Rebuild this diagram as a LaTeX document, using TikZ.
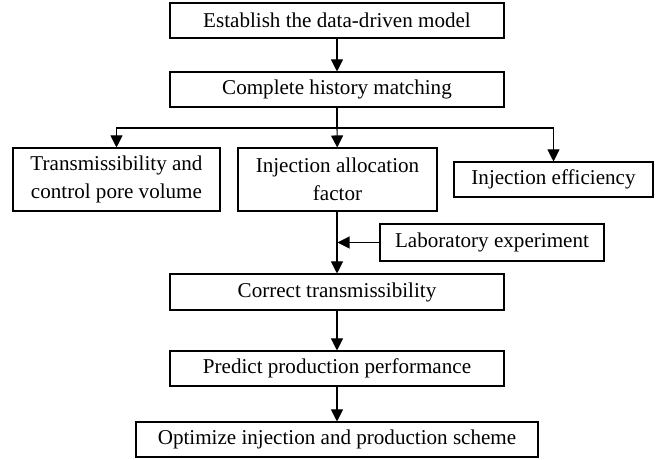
\documentclass[tikz,border=0pt]{standalone}
\usepackage{fontspec}
\setmainfont{Liberation Serif}
\usepackage{tikz}
\usetikzlibrary{arrows.meta, positioning}

\begin{document}
\begin{tikzpicture}[x=0.03cm, y=-0.03cm,
        stage/.style={draw, line width=0.9pt, inner sep=0pt, align=center,
            font=\fontsize{18}{24}\selectfont},
        flow/.style={line width=0.9pt, -{Triangle[length=0.36cm, width=0.36cm]}}]
        \useasboundingbox (0,0) rectangle (668,460);
        \node[stage, minimum width=10.02cm, minimum height=1.05cm] (model) at (337,20.5) {Establish the data-driven model};
        \node[stage, minimum width=10.02cm, minimum height=1.05cm] (hist) at (337,89.5) {Complete history matching};
        \node[stage, minimum width=6.21cm, minimum height=1.89cm] (trans) at (116.5,179.5) {Transmissibility and\\control pore volume};
        \node[stage, minimum width=5.97cm, minimum height=1.89cm] (alloc) at (337.5,179.5) {Injection allocation\\factor};
        \node[stage, minimum width=5.97cm, minimum height=1.05cm] (eff) at (553.5,179.5) {Injection efficiency};
        \node[stage, minimum width=6.72cm, minimum height=1.11cm] (lab) at (492,242.5) {Laboratory experiment};
        \node[stage, minimum width=10.02cm, minimum height=1.08cm] (corr) at (337,292) {Correct transmissibility};
        \node[stage, minimum width=10.02cm, minimum height=1.05cm] (pred) at (337,368.5) {Predict production performance};
        \node[stage, minimum width=12.06cm, minimum height=1.05cm] (opt) at (337,439.5) {Optimize injection and production scheme};
        \coordinate (split) at (337,128);
        \draw[flow] (model) -- (hist);
        \draw[line width=0.9pt] (hist) -- (split);
        \draw[flow] (split) -| (trans.north);
        \draw[flow] (split) -| (eff.north);
        \draw[flow] (split) -- (alloc);
        \draw[flow] (alloc.south -| corr.north) -- (corr);
        \draw[flow] (lab.west) -- (lab.west -| alloc.south);
        \draw[flow] (corr) -- (pred);
        \draw[flow] (pred) -- (opt);
    \end{tikzpicture}
\end{document}
